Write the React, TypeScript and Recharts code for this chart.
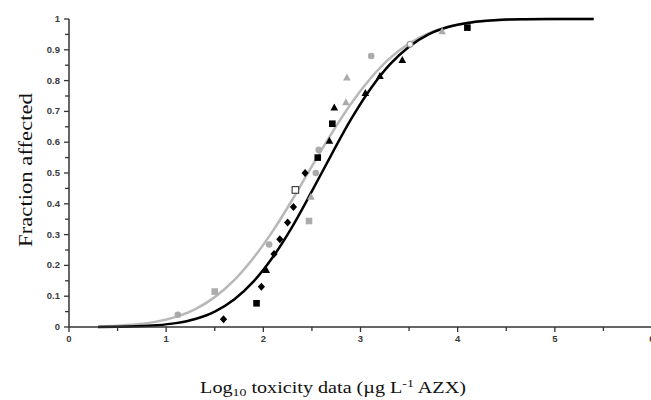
import {
  ComposedChart,
  Line,
  Scatter,
  XAxis,
  YAxis,
} from 'recharts';

// fitted curves
const curveX = [0.3, 0.5, 0.7, 0.9, 1.1, 1.3, 1.5, 1.7, 1.9, 2.1, 2.3, 2.5, 2.7, 2.9, 3.1, 3.3, 3.5, 3.7, 3.9, 4.1, 4.3, 4.5, 4.7, 4.9, 5.1, 5.4];
const blackCurve = [0.0003, 0.0009, 0.0023, 0.0056, 0.0126, 0.0262, 0.0503, 0.0896, 0.148, 0.228, 0.327, 0.441, 0.559, 0.673, 0.772, 0.852, 0.91, 0.95, 0.974, 0.987, 0.994, 0.998, 0.999, 0.9996, 0.9999, 1];
const grayCurve = [0.0018, 0.004, 0.0087, 0.0175, 0.033, 0.058, 0.097, 0.152, 0.225, 0.313, 0.414, 0.522, 0.627, 0.724, 0.806, 0.872, 0.92, 0.953, 0.974, 0.987, 0.994, 0.997, 0.9988, 0.9995, 0.9998, 1];

// observed points [log10 toxicity, fraction affected]
const blackSquares = [[1.93, 0.077], [2.56, 0.55], [2.71, 0.66], [4.1, 0.972]];
const graySquares = [[1.5, 0.115], [2.47, 0.344]];
const blackDiamonds = [[1.59, 0.025], [1.98, 0.131], [2.11, 0.237], [2.17, 0.285], [2.25, 0.339], [2.31, 0.39], [2.43, 0.5]];
const grayCircles = [[1.12, 0.04], [2.06, 0.268], [2.54, 0.5], [2.57, 0.575], [3.11, 0.88]];
const blackTriangles = [[2.03, 0.185], [2.68, 0.605], [2.73, 0.713], [3.05, 0.76], [3.2, 0.815], [3.43, 0.867]];
const grayTriangles = [[2.49, 0.423], [2.85, 0.73], [2.86, 0.81], [3.84, 0.96]];
const openSquares = [[2.33, 0.445]];
const openCircles = [[3.51, 0.918]];

const xTicks = [0, 0.5, 1, 1.5, 2, 2.5, 3, 3.5, 4, 4.5, 5, 5.5, 6];
const yTicks = [0, 0.05, 0.1, 0.15, 0.2, 0.25, 0.3, 0.35, 0.4, 0.45, 0.5, 0.55, 0.6, 0.65, 0.7, 0.75, 0.8, 0.85, 0.9, 0.95, 1];

const toRows = (vals: number[]) => curveX.map((x, i) => ({ x, y: vals[i] }));
const toPts = (pts: number[][]) => pts.map(([x, y]) => ({ x, y }));

const GRAY = '#ababab';
const AXIS = '#333';
const tickFont = {
  fontFamily: '"Liberation Sans", Arial, sans-serif',
  fontSize: 9.5,
  fontWeight: 700,
  fill: '#3a3a3a',
};

const XTick = ({ x, y, payload }: any) => {
  const v = payload.value;
  const major = Number.isInteger(v);
  return (
    <g>
      <line x1={x} x2={x} y1={y} y2={y + (major ? 5 : 4)} stroke={AXIS} strokeWidth={1.3} />
      {major && (
        <text x={x} y={y + 15} textAnchor="middle" {...tickFont}>
          {v}
        </text>
      )}
    </g>
  );
};

const YTick = ({ x, y, payload }: any) => {
  const v = payload.value;
  const major = Math.round(v * 100) % 10 === 0;
  return (
    <g>
      <line x1={x - (major ? 5 : 4)} x2={x} y1={y} y2={y} stroke={AXIS} strokeWidth={1.3} />
      {major && (
        <text x={x - 9} y={y + 3} textAnchor="end" {...tickFont}>
          {v}
        </text>
      )}
    </g>
  );
};

const square = (fill: string, stroke?: string) => (p: any) => (
  <rect
    x={p.cx - 3.3}
    y={p.cy - 3.3}
    width={6.6}
    height={6.6}
    fill={stroke ? '#fff' : fill}
    stroke={stroke || 'none'}
    strokeWidth={1}
  />
);
const diamond = (fill: string) => (p: any) => (
  <path
    d={`M${p.cx},${p.cy - 4} L${p.cx + 3.6},${p.cy} L${p.cx},${p.cy + 4} L${p.cx - 3.6},${p.cy} Z`}
    fill={fill}
  />
);
const circle = (fill: string, stroke?: string) => (p: any) => (
  <circle
    cx={p.cx}
    cy={p.cy}
    r={stroke ? 2.8 : 3.3}
    fill={stroke ? '#fff' : fill}
    stroke={stroke || 'none'}
    strokeWidth={1.2}
  />
);
const triangle = (fill: string) => (p: any) => (
  <path
    d={`M${p.cx},${p.cy - 4} L${p.cx + 3.8},${p.cy + 3} L${p.cx - 3.8},${p.cy + 3} Z`}
    fill={fill}
  />
);

const XLabel = () => (
  <text
    transform="translate(333,393) scale(1.26,1)"
    textAnchor="middle"
    fontFamily='"Liberation Serif", "Times New Roman", serif'
    fontSize={16}
    fill="#111"
  >
    Log
    <tspan fontSize={11} dy={3}>10</tspan>
    <tspan dy={-3}> toxicity data (µg L</tspan>
    <tspan fontSize={11} dy={-6}>-1</tspan>
    <tspan dy={6}> AZX)</tspan>
  </text>
);

const YLabel = () => (
  <text
    transform="translate(32,170) rotate(-90) scale(1.26,1)"
    textAnchor="middle"
    fontFamily='"Liberation Serif", "Times New Roman", serif'
    fontSize={18}
    fill="#111"
  >
    Fraction affected
  </text>
);

export default function App() {
  return (
    <div
      style={{
        position: 'absolute',
        left: 0,
        top: 0,
        width: 651,
        height: 400,
        overflow: 'hidden',
        background: '#fff',
      }}
    >
      <ComposedChart
        width={660}
        height={400}
        margin={{ top: 19, right: 8, left: 0, bottom: 0 }}
      >
        <XAxis
          dataKey="x"
          type="number"
          domain={[0, 6]}
          ticks={xTicks}
          interval={0}
          height={73}
          tickSize={0}
          tickMargin={0}
          axisLine={{ stroke: AXIS, strokeWidth: 1.5 }}
          tickLine={false}
          tick={(p: any) => <XTick {...p} />}
          label={{ content: () => <XLabel /> }}
        />
        <YAxis
          dataKey="y"
          type="number"
          domain={[0, 1]}
          ticks={yTicks}
          interval={0}
          width={69}
          tickSize={0}
          tickMargin={0}
          axisLine={{ stroke: AXIS, strokeWidth: 1.5 }}
          tickLine={false}
          tick={(p: any) => <YTick {...p} />}
          label={{ content: () => <YLabel /> }}
        />

        <Line
          data={toRows(grayCurve)}
          dataKey="y"
          type="monotone"
          stroke="#b8b8b8"
          strokeWidth={2.5}
          dot={false}
          isAnimationActive={false}
        />
        <Line
          data={toRows(blackCurve)}
          dataKey="y"
          type="monotone"
          stroke="#000"
          strokeWidth={2.5}
          dot={false}
          isAnimationActive={false}
        />

        <Scatter data={toPts(graySquares)} dataKey="y" shape={square(GRAY)} isAnimationActive={false} />
        <Scatter data={toPts(grayCircles)} dataKey="y" shape={circle(GRAY)} isAnimationActive={false} />
        <Scatter data={toPts(grayTriangles)} dataKey="y" shape={triangle(GRAY)} isAnimationActive={false} />
        <Scatter data={toPts(openCircles)} dataKey="y" shape={circle(GRAY, '#999')} isAnimationActive={false} />
        <Scatter data={toPts(blackSquares)} dataKey="y" shape={square('#000')} isAnimationActive={false} />
        <Scatter data={toPts(blackDiamonds)} dataKey="y" shape={diamond('#000')} isAnimationActive={false} />
        <Scatter data={toPts(blackTriangles)} dataKey="y" shape={triangle('#000')} isAnimationActive={false} />
        <Scatter data={toPts(openSquares)} dataKey="y" shape={square('#000', '#222')} isAnimationActive={false} />
      </ComposedChart>
    </div>
  );
}
